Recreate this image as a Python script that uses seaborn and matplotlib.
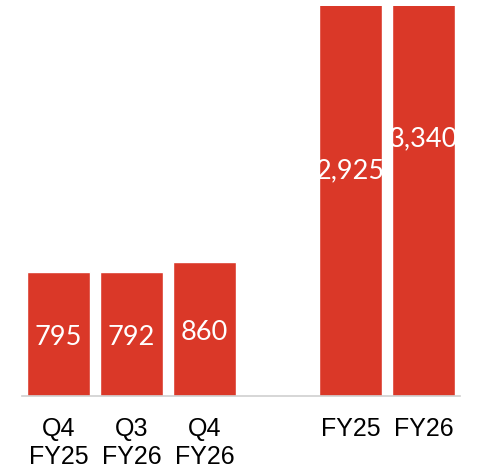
import matplotlib
matplotlib.use("Agg")
import matplotlib.pyplot as plt
import seaborn as sns
import pandas as pd

# Revenue by period (quarters, then full fiscal years)
periods = ["Q4\nFY25", "Q3\nFY26", "Q4\nFY26", "", "FY25", "FY26"]
bar_periods = ["Q4\nFY25", "Q3\nFY26", "Q4\nFY26", "FY25", "FY26"]
values = [795, 792, 860, 2925, 3340]
value_labels = ["795", "792", "860", "2,925", "3,340"]

bar_color = "#DA3828"

sns.set_theme(style="white")
plt.rcParams["font.family"] = ["Liberation Sans", "DejaVu Sans"]

df = pd.DataFrame({"period": bar_periods, "value": values})

fig = plt.figure(figsize=(4.8, 4.71), dpi=100)
ax = fig.add_axes([22 / 480, 75 / 471, 438 / 480, 390 / 471])

sns.barplot(data=df, x="period", y="value", order=periods, color=bar_color,
            width=0.85, saturation=1, ax=ax)

ax.set_xlim(-0.5, 5.5)
ax.set_ylim(0, 2495)

# value labels centred in each bar
for i, p in enumerate(periods):
    if p == "":
        continue
    k = bar_periods.index(p)
    ax.annotate(value_labels[k], (i, values[k] / 2), xytext=(0, -8),
                textcoords="offset points", ha="center", va="baseline",
                color="white", fontsize=19.5,
                family=["Lato", "DejaVu Sans"], annotation_clip=False)

for s in ["top", "left", "right"]:
    ax.spines[s].set_visible(False)
ax.spines["bottom"].set_color("#CFCFCF")
ax.spines["bottom"].set_linewidth(1.2)

ax.set_yticks([])
ax.set_xlabel("")
ax.set_ylabel("")
ax.tick_params(axis="x", length=0, pad=15, labelsize=18, labelcolor="black")

fig.savefig("out.png", dpi=100)
